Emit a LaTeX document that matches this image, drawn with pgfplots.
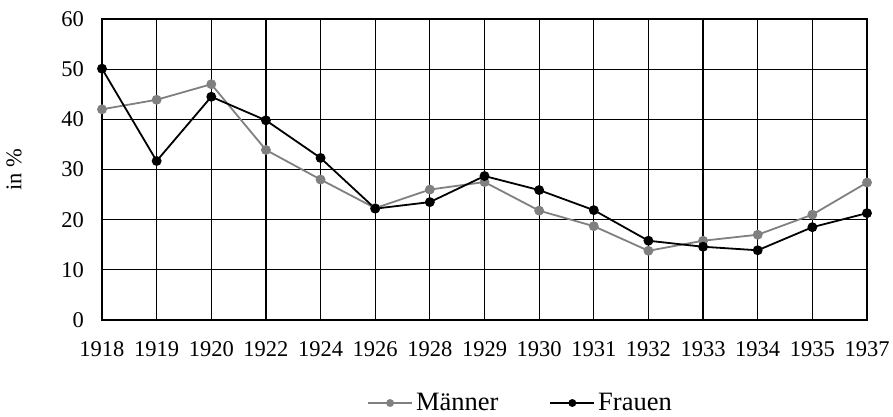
\documentclass[border=0pt]{standalone}
\usepackage{fontspec}
\setmainfont{Liberation Serif}
\usepackage{pgfplots}
\pgfplotsset{compat=1.18}
\definecolor{mgray}{RGB}{128,128,128}
\begin{document}
\begin{tikzpicture}
\begin{axis}[
 at={(0,0)}, anchor=south west,
 scale only axis, width=765bp, height=301bp,
 xmin=0, xmax=14, ymin=0, ymax=60,
 xtick={0,...,14},
 xticklabels={1918,1919,1920,1922,1924,1926,1928,1929,1930,1931,1932,1933,1934,1935,1937},
 ytick={0,10,...,60},
 grid=major, major grid style={black, line width=1.2bp},
 axis line style={black, line width=1.2bp},
 major tick length=0pt,
 tick style={draw=none},
 clip=false,
 /pgf/number format/assume math mode=true,
 ticklabel style={font=\fontsize{22.5bp}{27bp}\selectfont, inner sep=0pt},
 yticklabel style={xshift=-18bp},
 xticklabel style={yshift=-21bp},
 ylabel={in \%},
 ylabel style={font=\fontsize{22.5bp}{27bp}\selectfont, at={(axis description cs:-0.115,0.5)}, anchor=center},
 legend columns=2,
 legend style={at={(axis description cs:0,0)}, anchor=center, xshift=419bp, yshift=-83bp, draw=none, fill=none,
   font=\fontsize{26.5bp}{30bp}\selectfont, nodes={inner sep=3bp},
   /tikz/every even column/.append style={column sep=48bp}},
 legend image code/.code={\draw[mark repeat=2, mark phase=2, #1, mark size=3bp] plot coordinates {(0bp,0bp) (22bp,0bp) (44bp,0bp)};},
]
\addplot[mgray, line width=1.8bp, mark=*, mark size=4bp, mark options={solid, fill=mgray, draw=mgray}] coordinates {
(0,42.0) (1,43.9) (2,47.0) (3,33.9) (4,28.0) (5,22.3) (6,26.0) (7,27.5) (8,21.8) (9,18.7) (10,13.8) (11,15.8) (12,17.0) (13,21.0) (14,27.4)};
\addlegendentry{Männer}
\addplot[black, line width=1.8bp, mark=*, mark size=4bp, mark options={solid, fill=black, draw=black}] coordinates {
(0,50.1) (1,31.7) (2,44.5) (3,39.8) (4,32.3) (5,22.2) (6,23.5) (7,28.7) (8,25.9) (9,21.9) (10,15.8) (11,14.6) (12,13.9) (13,18.5) (14,21.3)};
\addlegendentry{Frauen}
\end{axis}
\pgfresetboundingbox
\path[use as bounding box] (-102bp,-97bp) rectangle (791bp,320bp);
\end{tikzpicture}
\end{document}
